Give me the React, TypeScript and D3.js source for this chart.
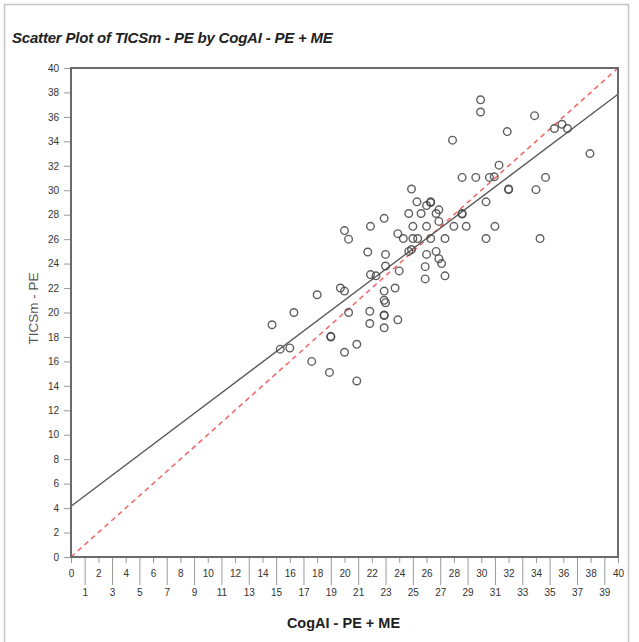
import { useRef, useEffect } from "react";
import * as d3 from "d3";

// CogAI - PE + ME (x) vs TICSm - PE (y)
const cogAI = [
  14.7, 15.3, 16.0, 16.3, 17.6, 18.0, 18.9, 19.0, 19.0, 19.7, 20.0, 20.0, 20.3, 20.9, 20.9,
  20.0, 20.3, 21.9, 22.3, 21.85, 21.85, 21.7, 21.9, 22.9, 23.0, 23.0, 22.9, 23.7, 22.9, 23.0,
  22.9, 22.9, 23.9, 22.9, 24.0, 23.9, 24.3, 25.0, 25.35, 26.3, 27.35, 24.7, 24.9, 26.0, 26.7,
  26.9, 27.1, 25.9, 25.9, 27.35, 24.9, 25.3, 26.3, 26.3, 26.0, 26.9, 24.7, 25.6, 26.7, 28.6,
  28.6, 26.9, 25.0, 26.0, 28.0, 28.9, 28.6, 29.6, 30.6, 30.95, 34.7, 31.3, 32.0, 32.0, 34.0,
  30.35, 31.0, 30.35, 34.3, 37.95, 29.95, 29.95, 33.9, 31.9, 35.35, 35.9, 36.3, 27.9,
];
const ticsm = [
  19.0, 17.0, 17.1, 20.0, 16.0, 21.45, 15.1, 18.0, 18.05, 22.0, 21.75, 16.75, 20.0, 17.4, 14.4,
  26.7, 26.0, 23.1, 23.0, 20.1, 19.1, 24.95, 27.05, 27.7, 24.75, 23.8, 21.75, 22.0, 21.0, 20.8,
  19.75, 19.8, 19.4, 18.75, 23.4, 26.45, 26.05, 26.05, 26.05, 26.05, 26.05, 25.0, 25.15, 24.75, 25.0,
  24.4, 24.0, 23.75, 22.75, 23.0, 30.1, 29.05, 29.05, 29.0, 28.75, 28.4, 28.1, 28.1, 28.1, 28.1,
  28.05, 27.45, 27.05, 27.05, 27.05, 27.05, 31.05, 31.05, 31.05, 31.1, 31.05, 32.05, 30.05, 30.1, 30.05,
  29.05, 27.05, 26.05, 26.05, 33.0, 37.4, 36.4, 36.1, 34.8, 35.05, 35.4, 35.05, 34.1,
];
// fitted line (solid) end values at x = 0 and x = 40
const fitX = [0, 40];
const fitY = [4.15, 37.85];
// reference line y = x (dashed red)
const refX = [0, 40];
const refY = [0, 40];

const xEven = d3.range(0, 41, 2);
const xOdd = d3.range(1, 40, 2);
const yTicks = d3.range(0, 41, 2);

const W = 639;
const H = 642;
const FONT = "'Liberation Sans', Arial, sans-serif";

export default function App() {
  const svgRef = useRef<SVGSVGElement>(null);

  useEffect(() => {
    if (!svgRef.current) return;
    const svg = d3.select(svgRef.current);
    svg.selectAll("*").remove();

    const margin = { top: 68, left: 71, right: 21, bottom: 85 };
    const width = W - margin.left - margin.right;
    const height = H - margin.top - margin.bottom;

    // outer panel border
    svg.append("rect")
      .attr("x", 4.5).attr("y", 4.5).attr("width", 624).attr("height", H + 10)
      .attr("fill", "white").attr("stroke", "#c4c4c4").attr("stroke-width", 1.5);

    svg.append("text")
      .attr("x", 12).attr("y", 43)
      .style("font-family", FONT).style("font-size", "15px")
      .style("font-weight", "700").style("font-style", "italic").style("fill", "#222")
      .style("letter-spacing", "-0.2px")
      .text("Scatter Plot of TICSm - PE by CogAI - PE + ME");

    const g = svg.append("g").attr("transform", `translate(${margin.left},${margin.top})`);

    const x = d3.scaleLinear().domain([0, 40]).range([0, width]);
    const y = d3.scaleLinear().domain([0, 40]).range([height, 0]);

    // y axis
    const yAx = g.append("g").call(d3.axisLeft(y).tickValues(yTicks).tickSize(7).tickPadding(5));
    yAx.select(".domain").remove();
    yAx.selectAll("line").attr("stroke", "#9a9a9a");
    yAx.selectAll("text").style("font-family", FONT).style("font-size", "10px").style("fill", "#333");

    // x axis: even labels on first row, odd labels on second row with long ticks
    const xEvenAx = g.append("g").attr("transform", `translate(0,${height})`)
      .call(d3.axisBottom(x).tickValues(xEven).tickSize(6).tickPadding(7));
    xEvenAx.select(".domain").remove();
    xEvenAx.selectAll("line").attr("stroke", "#9a9a9a");
    xEvenAx.selectAll("text").style("font-family", FONT).style("font-size", "10px").style("fill", "#333");

    const xOddAx = g.append("g").attr("transform", `translate(0,${height})`)
      .call(d3.axisBottom(x).tickValues(xOdd).tickSize(28).tickPadding(4));
    xOddAx.select(".domain").remove();
    xOddAx.selectAll("line").attr("stroke", "#9a9a9a");
    xOddAx.selectAll("text").style("font-family", FONT).style("font-size", "10px").style("fill", "#333");

    // axis titles
    g.append("text")
      .attr("transform", "rotate(-90)").attr("x", -height / 2 + 4).attr("y", -33)
      .attr("text-anchor", "middle")
      .style("font-family", FONT).style("font-size", "13.5px").style("fill", "#555")
      .text("TICSm - PE");
    g.append("text")
      .attr("x", width / 2 - 1).attr("y", height + 71).attr("text-anchor", "middle")
      .style("font-family", FONT).style("font-size", "14.5px").style("font-weight", "700").style("fill", "#222")
      .text("CogAI - PE + ME");

    // reference line y = x
    g.append("line")
      .attr("x1", x(refX[0])).attr("y1", y(refY[0])).attr("x2", x(refX[1])).attr("y2", y(refY[1]))
      .attr("stroke", "#f26b6b").attr("stroke-width", 1.6).attr("stroke-dasharray", "5,4");

    // fitted line
    g.append("line")
      .attr("x1", x(fitX[0])).attr("y1", y(fitY[0])).attr("x2", x(fitX[1])).attr("y2", y(fitY[1]))
      .attr("stroke", "#555").attr("stroke-width", 1.3);

    // points
    g.selectAll(".pt")
      .data(cogAI.map((v, i) => [v, ticsm[i]]))
      .enter()
      .append("circle")
      .attr("class", "pt")
      .attr("cx", (d) => x(d[0]))
      .attr("cy", (d) => y(d[1]))
      .attr("r", 3.8)
      .attr("fill", "none")
      .attr("stroke", "#444")
      .attr("stroke-opacity", 0.85)
      .attr("stroke-width", 1.4);

    // plot frame
    g.append("rect")
      .attr("x", 0).attr("y", 0).attr("width", width).attr("height", height)
      .attr("fill", "none").attr("stroke", "#6a6a6a").attr("stroke-width", 2);

    return () => {
      svg.selectAll("*").remove();
    };
  }, []);

  return (
    <svg
      ref={svgRef}
      width={W}
      height={H}
      style={{ position: "absolute", left: 0, top: 0, background: "white" }}
    />
  );
}
